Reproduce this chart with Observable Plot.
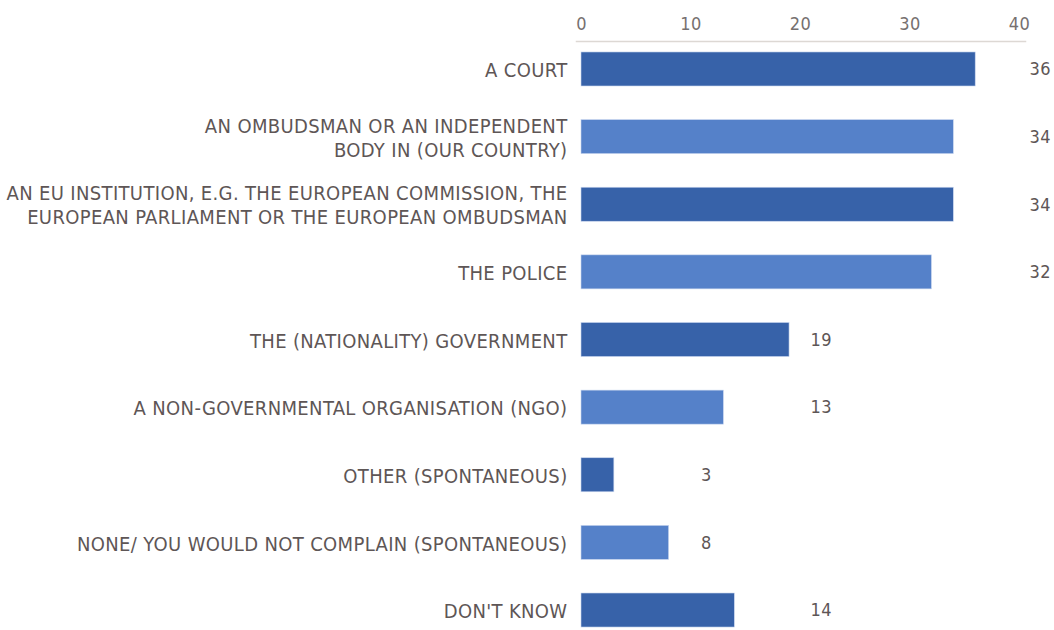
<!DOCTYPE html>
<html>
<head>
<meta charset="utf-8">
<script src="https://cdn.jsdelivr.net/npm/d3@7"></script>
<script src="https://cdn.jsdelivr.net/npm/@observablehq/plot@0.6"></script>
<style>
  html, body { margin: 0; padding: 0; background: #fff; }
  #chart svg { display: block; }
  #chart svg text { letter-spacing: 0.35px; }
</style>
</head>
<body>
<div id="chart"></div>
<script>
const categories = [
  "A COURT",
  "AN OMBUDSMAN OR AN INDEPENDENT\nBODY IN (OUR COUNTRY)",
  "AN EU INSTITUTION, E.G. THE EUROPEAN COMMISSION, THE\nEUROPEAN PARLIAMENT OR THE EUROPEAN OMBUDSMAN",
  "THE POLICE",
  "THE (NATIONALITY) GOVERNMENT",
  "A NON-GOVERNMENTAL ORGANISATION (NGO)",
  "OTHER (SPONTANEOUS)",
  "NONE/ YOU WOULD NOT COMPLAIN (SPONTANEOUS)",
  "DON'T KNOW"
];
const values = [36, 34, 34, 32, 19, 13, 3, 8, 14];
const xTicks = [0, 10, 20, 30, 40];
const barColors = ["#3762a9", "#5581c9"];

const data = categories.map((c, i) => ({
  label: c,
  value: values[i],
  shade: i % 2,
  labelPos: Math.ceil(values[i] / 10) * 10
}));

const textColor = "#5e5656";
const font = "'DejaVu Sans Condensed', 'DejaVu Sans', sans-serif";

const chart = Plot.plot({
  width: 1054,
  height: 630,
  marginTop: 41,
  marginBottom: 0,
  marginLeft: 576,
  marginRight: 29,
  style: { fontFamily: font, background: "#fff" },
  x: { domain: [0, 40], insetLeft: 5, insetRight: 6, axis: null },
  y: { domain: categories, insetTop: 8, paddingInner: 0.497, paddingOuter: 0.044, round: false, axis: null },
  color: { domain: [0, 1], range: barColors },
  marks: [
    Plot.gridX(xTicks, { stroke: "#ddd8d4", strokeOpacity: 1, strokeWidth: 1.5, y1: 35, y2: 630 }),
    Plot.frame({ anchor: "top", stroke: "#ddd8d4", strokeWidth: 1.5 }),
    Plot.text(xTicks, { x: d => d, text: d => String(d), frameAnchor: "top", dy: -24, fontSize: 18, fill: "#767070" }),
    Plot.barX(data, { x: "value", y: "label", fill: d => d.shade, stroke: "#c9d6ee", strokeWidth: 0.6 }),
    Plot.text(data, { x: 0, y: "label", text: "label", textAnchor: "end", dx: -14, fontSize: 20, lineHeight: 1.2, fill: textColor }),
    Plot.text(data, { x: "labelPos", y: "label", text: d => String(d.value), textAnchor: "start", dx: 10, fontSize: 18, fill: textColor })
  ]
});
document.getElementById("chart").append(chart);
</script>
</body>
</html>
